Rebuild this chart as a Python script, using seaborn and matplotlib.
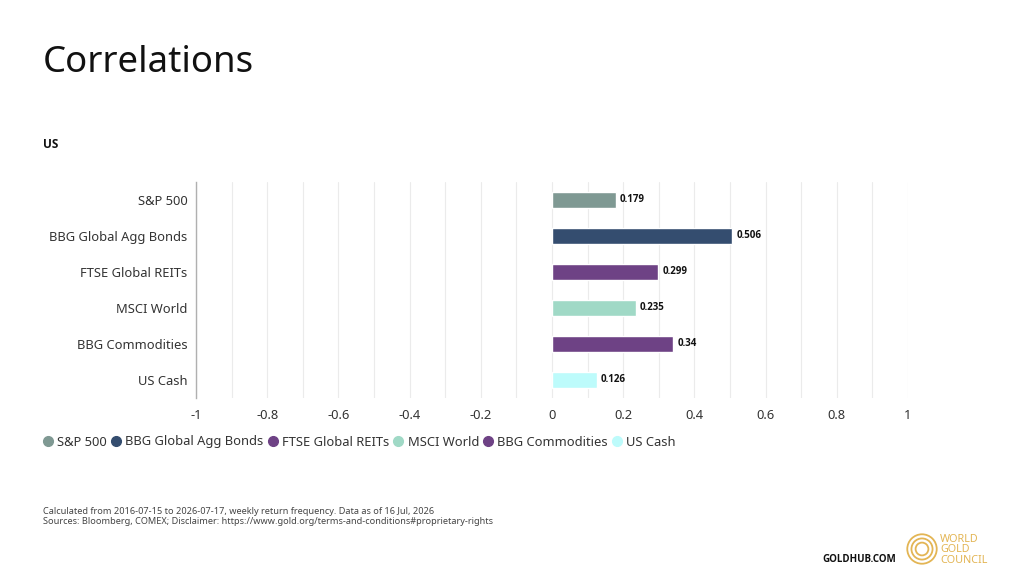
import numpy as np
import pandas as pd
import matplotlib
matplotlib.use("Agg")
import matplotlib.pyplot as plt
from matplotlib.lines import Line2D
from matplotlib.patches import Circle
import seaborn as sns

# data
assets = ['S&P 500', 'BBG Global Agg Bonds', 'FTSE Global REITs',
          'MSCI World', 'BBG Commodities', 'US Cash']
corr = [0.179, 0.506, 0.299, 0.235, 0.34, 0.126]
colors = ['#7f9993', '#344d6f', '#6e4285', '#a0d9c6', '#6e4285', '#bdfbfb']
xticks = [-1, -0.8, -0.6, -0.4, -0.2, 0, 0.2, 0.4, 0.6, 0.8, 1]

sns.set_theme(style='white')
plt.rcParams['font.family'] = ['Noto Sans', 'DejaVu Sans']
BOLD = ['Open Sans', 'DejaVu Sans']

df = pd.DataFrame({'asset': assets, 'corr': corr})

fig = plt.figure(figsize=(10.3, 5.79), dpi=100)
ax = fig.add_axes([196 / 1030, 1 - 398 / 579, 712 / 1030, 216 / 579])

sns.barplot(data=df, x='corr', y='asset', hue='asset', palette=colors,
            orient='h', width=0.47, legend=False, ax=ax, saturation=1)

for c, v in zip(ax.containers, corr):
    ax.bar_label(c, labels=[f'{v:g}'], padding=3, fontsize=7,
                 fontweight='bold', family=BOLD, color='#111111')

ax.set_xlim(-1, 1)
ax.set_xticks(xticks)
ax.set_xticklabels([f'{t:g}' for t in xticks], fontsize=9.3, color='#333333')
ax.set_xticks(np.arange(-0.9, 1.0, 0.2), minor=True)
ax.grid(axis='x', which='both', color='#ebebeb', linewidth=0.8)
ax.set_axisbelow(True)
ax.tick_params(axis='both', which='both', length=0)
ax.tick_params(axis='y', labelsize=9.3, labelcolor='#333333', pad=6)
ax.tick_params(axis='x', pad=8)
ax.set_xlabel('')
ax.set_ylabel('')
for s in ['top', 'right', 'bottom']:
    ax.spines[s].set_visible(False)
ax.spines['left'].set_color('#b0b0b0')
ax.spines['left'].set_linewidth(1)

fig.text(43 / 1030, 1 - 63 / 579, 'Correlations', fontsize=26.3,
         va='center', ha='left', color='#111111')
fig.text(43 / 1030, 1 - 144 / 579, 'US', fontsize=8.5, fontweight='bold',
         family=BOLD, va='center', ha='left', color='#111111')

handles = [Line2D([], [], marker='o', linestyle='', markersize=7,
                  markerfacecolor=c, markeredgecolor=c) for c in colors]
fig.legend(handles, assets, loc='center left',
           bbox_to_anchor=(39 / 1030, 1 - 442 / 579), ncol=6, frameon=False,
           fontsize=9.3, handletextpad=0.22, columnspacing=0.2,
           handlelength=1.0, borderpad=0.2, borderaxespad=0,
           labelcolor='#333333')

fig.text(43 / 1030, 1 - 512 / 579,
         'Calculated from 2016-07-15 to 2026-07-17, weekly return frequency. Data as of 16 Jul, 2026',
         fontsize=6.6, color='#444444', va='center')
fig.text(43 / 1030, 1 - 522 / 579,
         'Sources: Bloomberg, COMEX; Disclaimer: https://www.gold.org/terms-and-conditions#proprietary-rights',
         fontsize=6.6, color='#444444', va='center')

fig.text(822 / 1030, 1 - 560 / 579, 'GOLDHUB.COM', fontsize=7,
         fontweight='bold', family=BOLD, color='#111111', va='center')

gold = '#e3b554'
lax = fig.add_axes([906 / 1030, 1 - 565 / 579, 32 / 1030, 32 / 579])
lax.set_xlim(-1, 1)
lax.set_ylim(-1, 1)
lax.set_aspect('equal')
lax.axis('off')
for r in [0.92, 0.66, 0.4]:
    lax.add_patch(Circle((0, 0), r, fill=False, edgecolor=gold, linewidth=1.3))
fig.text(940 / 1030, 1 - 550 / 579, 'WORLD\nGOLD\nCOUNCIL', fontsize=7.8,
         color=gold, va='center', ha='left', linespacing=0.95)

fig.savefig('out.png', dpi=100)
